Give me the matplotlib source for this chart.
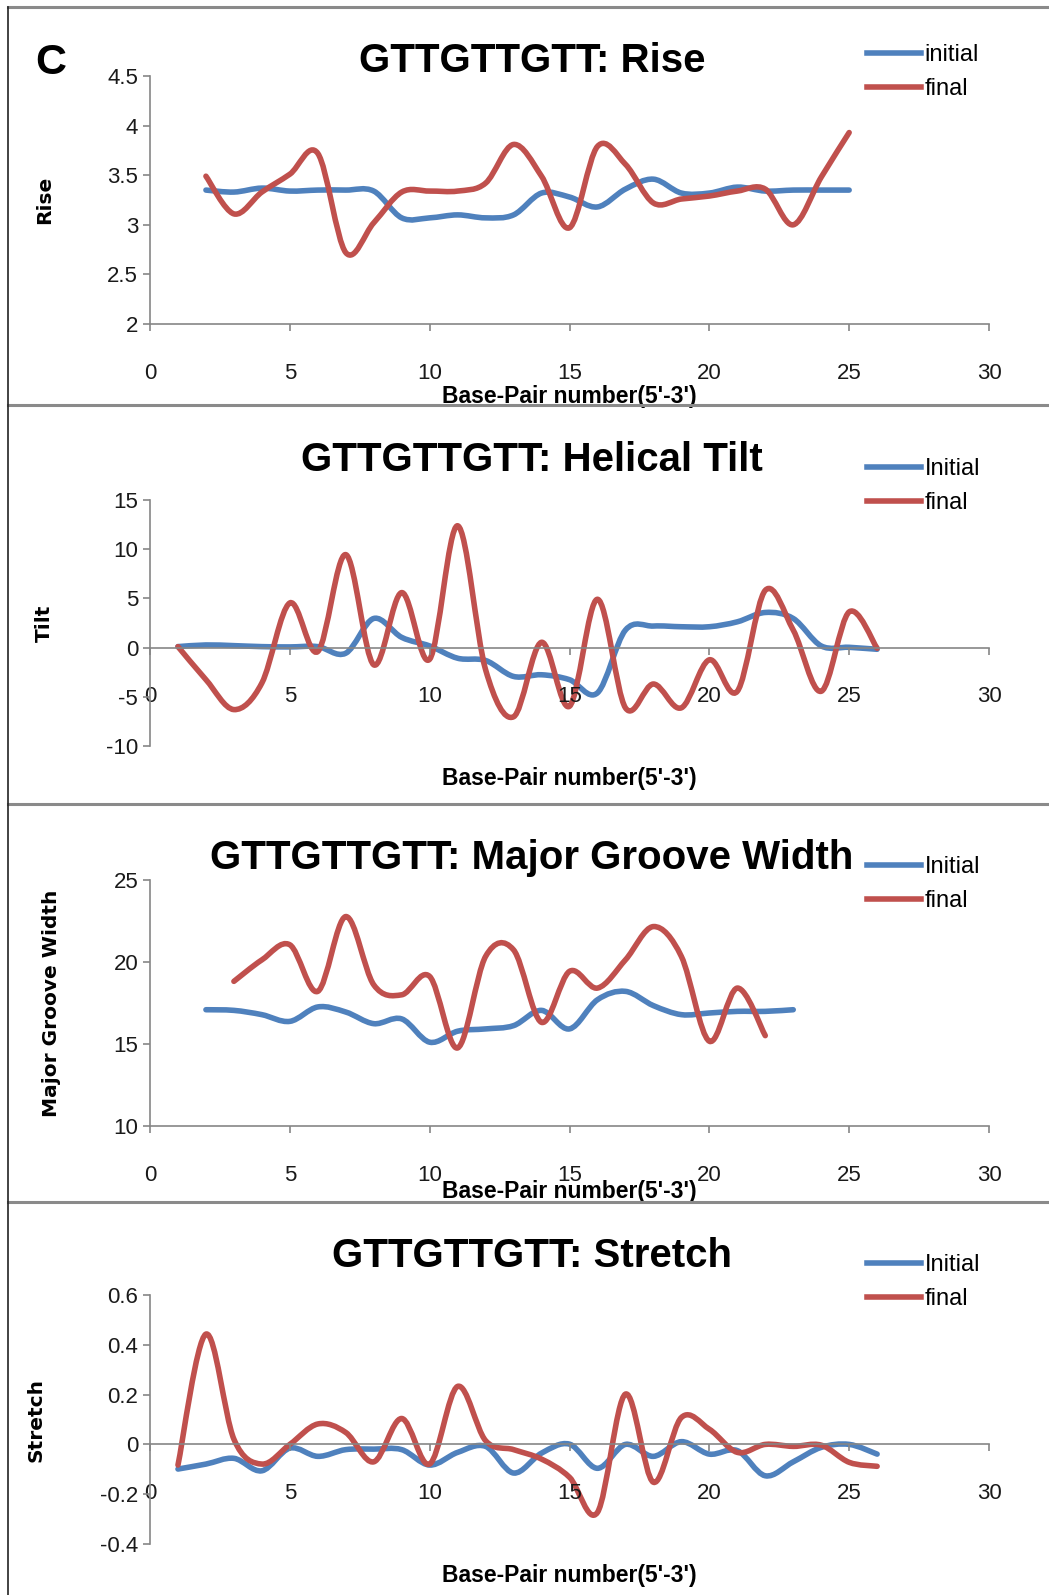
import numpy as np
import matplotlib
matplotlib.use("Agg")
import matplotlib.pyplot as plt
from matplotlib.path import Path
from matplotlib.patches import PathPatch
from matplotlib.lines import Line2D
from matplotlib import font_manager

# --- data ---------------------------------------------------------------
rise_x = list(range(2, 26))
rise_initial = [3.35, 3.33, 3.37, 3.34, 3.35, 3.35, 3.34, 3.07, 3.07, 3.10, 3.07, 3.10,
                3.32, 3.28, 3.18, 3.36, 3.46, 3.32, 3.32, 3.38, 3.34, 3.35, 3.35, 3.35]
rise_final = [3.49, 3.11, 3.33, 3.51, 3.72, 2.72, 3.02, 3.33, 3.34, 3.34, 3.42, 3.81,
              3.49, 2.97, 3.79, 3.61, 3.22, 3.26, 3.29, 3.34, 3.36, 3.00, 3.48, 3.93]

tilt_x = list(range(1, 27))
tilt_initial = [0.1, 0.27, 0.2, 0.1, 0.07, 0.1, -0.57, 2.96, 1.04, 0.17, -1.08, -1.31, -2.93,
                -2.76, -3.26, -4.6, 1.78, 2.19, 2.12, 2.12, 2.62, 3.57, 2.96, 0.17, 0.03, -0.17]
tilt_final = [0.1, -3.26, -6.3, -3.6, 4.54, -0.4, 9.45, -1.75, 5.59, -1.18, 12.38, -2.25, -7.03,
              0.54, -5.96, 4.91, -6.12, -3.7, -6.12, -1.24, -4.44, 5.82, 1.78, -4.44, 3.63, -0.07]

mgw_x_initial = list(range(2, 24))
mgw_initial = [17.09, 17.05, 16.79, 16.38, 17.26, 16.95, 16.24, 16.53, 15.11, 15.78, 15.92,
               16.12, 17.05, 15.92, 17.7, 18.21, 17.34, 16.79, 16.89, 16.99, 16.99, 17.09]
mgw_x_final = list(range(3, 23))
mgw_final = [18.82, 20.13, 21.05, 18.21, 22.77, 18.61, 18.0, 19.12, 14.76, 20.34, 20.74,
             16.32, 19.43, 18.41, 20.13, 22.16, 20.34, 15.17, 18.41, 15.51]

stretch_x = list(range(1, 27))
stretch_initial = [-0.099, -0.079, -0.056, -0.106, -0.015, -0.048, -0.021, -0.019, -0.021,
                   -0.083, -0.032, -0.008, -0.115, -0.035, 0.001, -0.096, 0.0, -0.048, 0.011,
                   -0.039, -0.025, -0.126, -0.07, -0.012, 0.0, -0.039]
stretch_final = [-0.083, 0.443, 0.021, -0.079, 0.0, 0.082, 0.048, -0.07, 0.104, -0.079, 0.233,
                 0.015, -0.021, -0.059, -0.132, -0.273, 0.202, -0.152, 0.108, 0.061, -0.032,
                 0.0, -0.008, -0.003, -0.072, -0.088]

BLUE = "#4F81BD"
RED = "#C0504D"
GRAY = "#868686"

names = {f.name for f in font_manager.fontManager.ttflist}
NARROW = "Liberation Sans Narrow" if "Liberation Sans Narrow" in names else "Liberation Sans"

W, H = 1049, 1595
fig = plt.figure(figsize=(W / 100, H / 100), dpi=100)


def smooth_path(xs, ys):
    # Excel-style smoothed line: cubic Bezier through every data point
    p = np.column_stack([xs, ys]).astype(float)
    ext = np.vstack([p[0], p, p[-1]])
    verts = [p[0]]
    codes = [Path.MOVETO]
    for i in range(len(p) - 1):
        p0, p1, p2, p3 = ext[i], ext[i + 1], ext[i + 2], ext[i + 3]
        verts += [p1 + (p2 - p0) / 6, p2 - (p3 - p1) / 6, p2]
        codes += [Path.CURVE4] * 3
    return Path(verts, codes)


def panel(top, bottom, ylim, yticks, cross, series, title, ylabel, legend_labels,
          title_y, legend_y, xlab_y, ylab_x):
    ax = fig.add_axes([150 / W, 1 - bottom / H, 839 / W, (bottom - top) / H])
    for xs, ys, c in series:
        ax.add_patch(PathPatch(smooth_path(xs, ys), fill=False, edgecolor=c, lw=4.0,
                               capstyle="round", joinstyle="round"))
    ax.set_xlim(0, 30)
    ax.set_ylim(*ylim)
    ax.set_xticks(range(0, 31, 5))
    ax.set_yticks(yticks)
    ax.set_yticklabels([f"{t:g}" for t in yticks])
    for s in ("top", "right"):
        ax.spines[s].set_visible(False)
    ax.spines["bottom"].set_position(("data", cross))
    for s in ("left", "bottom"):
        ax.spines[s].set_color(GRAY)
        ax.spines[s].set_linewidth(1.2)
    ax.tick_params(axis="both", colors=GRAY, labelcolor="#1a1a1a", labelsize=16, width=1.2,
                   length=5)
    ax.tick_params(axis="x", pad=23)
    for lab in ax.get_xticklabels() + ax.get_yticklabels():
        lab.set_fontfamily(NARROW)
    ax.patch.set_alpha(0)
    ax.set_xlabel("Base-Pair number(5'-3')", fontsize=16.5, fontweight="bold", family=NARROW)
    ax.xaxis.set_label_coords(0.5, xlab_y)
    ax.set_ylabel(ylabel, fontsize=14.5, fontweight="bold", family="DejaVu Sans")
    ax.yaxis.set_label_coords(ylab_x, 0.5)
    fig.text(532 / W, 1 - title_y / H, title, ha="center", va="center", fontsize=29,
             fontweight="bold", family=NARROW)
    handles = [Line2D([], [], color=BLUE, lw=4.0), Line2D([], [], color=RED, lw=4.0)]
    fig.legend(handles, legend_labels, loc="upper left",
               bbox_to_anchor=(867 / W, 1 - (legend_y - 12) / H), frameon=False,
               prop={"family": NARROW, "size": 17}, handlelength=2.3,
               handletextpad=0.15, labelspacing=0.5, borderpad=0, borderaxespad=0)
    return ax


panel(76, 324, (2, 4.5), [2, 2.5, 3, 3.5, 4, 4.5], 2,
      [(rise_x, rise_initial, BLUE), (rise_x, rise_final, RED)],
      "GTTGTTGTT: Rise", "Rise", ["initial", "final"], 61, 56, -0.246, -0.114)
panel(500, 746, (-10, 15), [-10, -5, 0, 5, 10, 15], 0,
      [(tilt_x, tilt_initial, BLUE), (tilt_x, tilt_final, RED)],
      "GTTGTTGTT: Helical Tilt", "Tilt", ["Initial", "final"], 460, 470, -0.085, -0.114)
panel(880, 1126, (10, 25), [10, 15, 20, 25], 10,
      [(mgw_x_initial, mgw_initial, BLUE), (mgw_x_final, mgw_final, RED)],
      "GTTGTTGTT: Major Groove Width", "Major Groove Width", ["Initial", "final"],
      858, 868, -0.22, -0.106)
panel(1295, 1544, (-0.4, 0.6), [-0.4, -0.2, 0, 0.2, 0.4, 0.6], 0,
      [(stretch_x, stretch_initial, BLUE), (stretch_x, stretch_final, RED)],
      "GTTGTTGTT: Stretch", "Stretch", ["Initial", "final"], 1256, 1266, -0.08, -0.124)

fig.text(51 / W, 1 - 63 / H, "C", ha="center", va="center", fontsize=31, fontweight="bold",
         family="Liberation Sans")

# panel frames
for yy in (7, 405, 804, 1202):
    fig.add_artist(Line2D([8 / W, 1], [1 - yy / H] * 2, color="#8a8a8a", lw=2.2))
fig.add_artist(Line2D([8 / W, 8 / W], [1 - 7 / H, 0], color="#222222", lw=1.2))

fig.savefig("out.png", dpi=100)
